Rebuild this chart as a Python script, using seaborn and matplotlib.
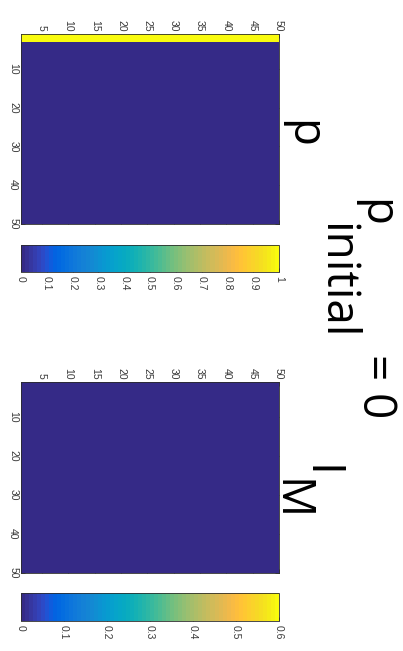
import numpy as np
import matplotlib
matplotlib.use("Agg")
import matplotlib.pyplot as plt
import seaborn as sns
from matplotlib.colors import ListedColormap

sns.set_theme(style="white")
plt.rcParams["font.family"] = ["Liberation Sans", "DejaVu Sans"]

# ---- data -------------------------------------------------------------
grid_points = 50                 # mesh nodes per direction (cells = nodes - 1)
p_initial = 0.0                  # interior value of p
p_boundary = 1.0                 # value held along the boundary band
p_boundary_cells = 2             # depth of that band, in cells
im_value = 0.0                   # I_M field
p_limits = (0.0, 1.0)
im_limits = (0.0, 0.6)
p_cbar_ticks = [0, 0.1, 0.2, 0.3, 0.4, 0.5, 0.6, 0.7, 0.8, 0.9, 1]
im_cbar_ticks = [0, 0.1, 0.2, 0.3, 0.4, 0.5, 0.6]
h_ticks = [5, 10, 15, 20, 25, 30, 35, 40, 45, 50]
v_ticks = [10, 20, 30, 40, 50]

# MATLAB parula, 64 entries
parula_rgb = [
    (0.2081, 0.1663, 0.5292), (0.2116, 0.1898, 0.5777), (0.2123, 0.2138, 0.6270),
    (0.2081, 0.2386, 0.6771), (0.1959, 0.2645, 0.7279), (0.1707, 0.2919, 0.7792),
    (0.1253, 0.3242, 0.8303), (0.0591, 0.3598, 0.8683), (0.0117, 0.3875, 0.8820),
    (0.0060, 0.4086, 0.8828), (0.0165, 0.4266, 0.8786), (0.0329, 0.4430, 0.8720),
    (0.0498, 0.4586, 0.8641), (0.0629, 0.4737, 0.8554), (0.0723, 0.4887, 0.8467),
    (0.0779, 0.5040, 0.8384), (0.0793, 0.5200, 0.8312), (0.0749, 0.5375, 0.8263),
    (0.0641, 0.5570, 0.8240), (0.0488, 0.5772, 0.8228), (0.0343, 0.5966, 0.8199),
    (0.0265, 0.6137, 0.8135), (0.0239, 0.6287, 0.8038), (0.0231, 0.6418, 0.7913),
    (0.0228, 0.6535, 0.7768), (0.0267, 0.6642, 0.7607), (0.0384, 0.6743, 0.7436),
    (0.0590, 0.6838, 0.7254), (0.0843, 0.6928, 0.7062), (0.1133, 0.7015, 0.6859),
    (0.1453, 0.7098, 0.6646), (0.1801, 0.7177, 0.6424), (0.2178, 0.7250, 0.6193),
    (0.2586, 0.7317, 0.5954), (0.3022, 0.7376, 0.5712), (0.3482, 0.7424, 0.5473),
    (0.3953, 0.7459, 0.5244), (0.4420, 0.7481, 0.5033), (0.4871, 0.7491, 0.4840),
    (0.5300, 0.7491, 0.4661), (0.5709, 0.7485, 0.4494), (0.6099, 0.7473, 0.4337),
    (0.6473, 0.7456, 0.4188), (0.6834, 0.7435, 0.4044), (0.7184, 0.7411, 0.3905),
    (0.7525, 0.7384, 0.3768), (0.7858, 0.7356, 0.3633), (0.8185, 0.7327, 0.3498),
    (0.8507, 0.7299, 0.3360), (0.8824, 0.7274, 0.3217), (0.9139, 0.7258, 0.3063),
    (0.9450, 0.7261, 0.2886), (0.9739, 0.7314, 0.2666), (0.9938, 0.7455, 0.2403),
    (0.9990, 0.7653, 0.2164), (0.9955, 0.7861, 0.1967), (0.9880, 0.8066, 0.1794),
    (0.9789, 0.8271, 0.1633), (0.9697, 0.8481, 0.1475), (0.9626, 0.8705, 0.1309),
    (0.9589, 0.8949, 0.1132), (0.9598, 0.9218, 0.0948), (0.9661, 0.9514, 0.0755),
    (0.9763, 0.9831, 0.0538),
]
parula = ListedColormap(parula_rgb, name="parula")

# ---- fields (pcolor-style: one cell between neighbouring nodes) -------
n_cells = grid_points - 1
p_field = np.full((n_cells, n_cells), p_initial)
p_field[:p_boundary_cells, :] = p_boundary
im_field = np.full((n_cells, n_cells), im_value)

W, H = 403, 651
fig = plt.figure(figsize=(W / 100, H / 100), dpi=100)


def rect(x0, y0, x1, y1):
    return [x0 / W, 1 - y1 / H, (x1 - x0) / W, (y1 - y0) / H]


TICK_COLOR = "#3a3a3a"
FRAME = "#2b2b2b"


def panel(field, box, cbox, limits, cticks):
    ax = fig.add_axes(rect(*box))
    cax = fig.add_axes(rect(*cbox))
    sns.heatmap(field, ax=ax, cbar_ax=cax, cmap=parula,
                vmin=limits[0], vmax=limits[1],
                xticklabels=False, yticklabels=False,
                cbar_kws={"orientation": "horizontal"})
    for s in ax.spines.values():
        s.set_visible(True)
        s.set_linewidth(0.6)
        s.set_color(FRAME)
    # node coordinate v sits at cell edge v - 1
    ax.set_xticks([t - 1 for t in h_ticks])
    ax.set_xticklabels([str(t) for t in h_ticks], rotation=-90)
    ax.set_yticks([t - 1 for t in v_ticks])
    ax.set_yticklabels([str(t) for t in v_ticks], rotation=-90, va="center")
    ax.tick_params(axis="both", direction="in", length=3, width=0.5,
                   color=FRAME, top=True, bottom=True, left=True, right=True,
                   labeltop=True, labelbottom=False, labelleft=True,
                   labelright=False, labelsize=7.5, labelcolor=TICK_COLOR,
                   pad=2)

    cbar = ax.collections[0].colorbar
    cbar.outline.set_visible(True)
    cbar.outline.set_linewidth(0.6)
    cbar.outline.set_edgecolor(FRAME)
    cbar.set_ticks(cticks)
    cax.set_xticklabels([f"{t:g}" for t in cticks], rotation=-90, va="top")
    cax.tick_params(axis="x", direction="in", length=3, width=0.5,
                    color=FRAME, bottom=True, top=False, labelsize=7.5,
                    labelcolor=TICK_COLOR, pad=3)
    return ax


panel(p_field, (21, 34, 279, 224), (21, 245, 279, 272), p_limits, p_cbar_ticks)
panel(im_field, (21, 382, 279, 573), (21, 593, 279, 621), im_limits, im_cbar_ticks)

# ---- titles (vertical, reading downward) -------------------------------
title_font = dict(family=["Open Sans", "DejaVu Sans"], fontsize=33,
                  color="black", rotation=-90, rotation_mode="anchor",
                  ha="left", va="baseline")


def vtext(x, y, s):
    fig.text(x / W, 1 - y / H, s, **title_font)


# panel titles: p  and  I with subscript M
vtext(290, 120, "p")
vtext(307, 465, "I")
vtext(277, 479, "M")

# figure title: p_initial = 0
vtext(363, 199, "p")
vtext(323, 223, "initial")
vtext(363, 354, "= 0")

fig.savefig("out.png", dpi=100)
